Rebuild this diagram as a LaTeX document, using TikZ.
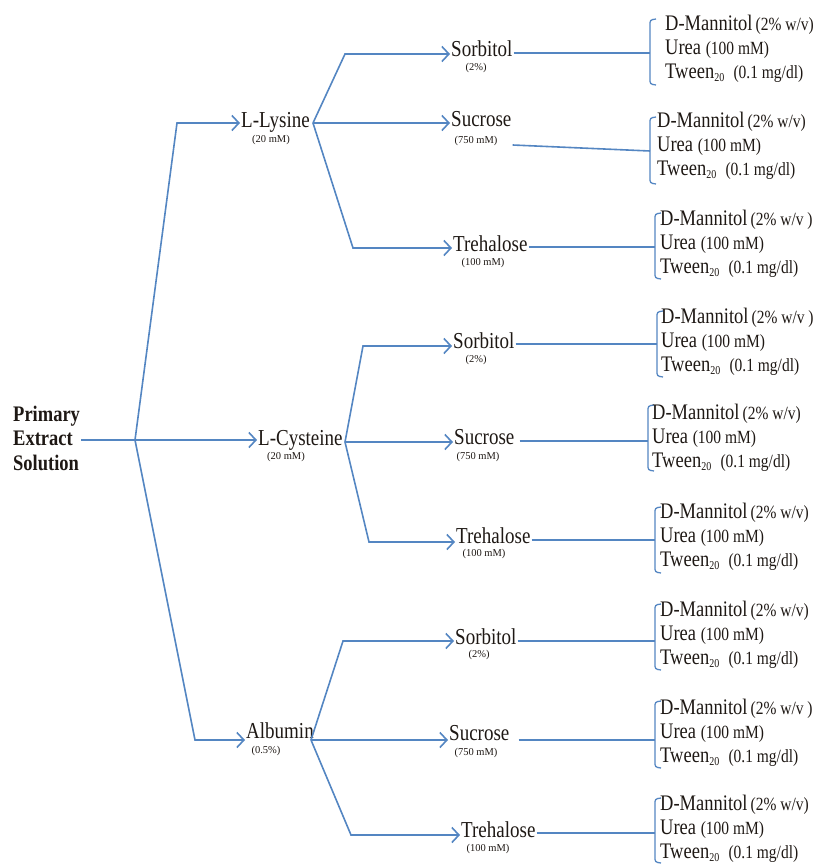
\documentclass[tikz,border=0pt]{standalone}
\usepackage{fontspec}
\setmainfont{Liberation Serif}
\usepackage{graphicx}
\usetikzlibrary{arrows.meta}
\definecolor{lnblue}{RGB}{84,134,194}
\definecolor{txtc}{RGB}{30,24,20}
\newcommand{\vs}[1]{\scalebox{1}[1.2]{#1}}
\newcommand{\pf}{\fontsize{15.5}{15.5}\selectfont}
\newcommand{\btext}[1]{\vs{D-Mannitol\,{\pf(2\% w/v#1)}}\\ \vs{Urea {\pf(100 mM)}}\\ \vs{Tween{\fontsize{10}{10}\selectfont\raisebox{-2pt}{20}}\ \ {\pf(0.1 mg/dl)}}}
\newcommand{\brackpath}[3]{\draw[conn, line width=1.3pt, rounded corners=2.5pt] (#1+6,#2) -- (#1,#2+1) -- (#1,#3-1) -- (#1+6,#3);}
\begin{document}
\begin{tikzpicture}[x=1pt,y=-1pt,
  conn/.style={draw=lnblue, line width=1.6pt},
  arr/.style={conn, -{Straight Barb[length=7pt,width=15pt]}},
  lab/.style={inner sep=1pt, text=txtc, font=\fontsize{19}{22}\selectfont, anchor=base west},
  sub/.style={inner sep=1pt, text=txtc, font=\fontsize{10.5}{12}\selectfont},
  btxt/.style={inner sep=0pt, text=txtc, align=left, anchor=west, font=\fontsize{18.5}{24}\selectfont}]
\useasboundingbox (0,0) rectangle (817,864);

% root
\node[inner sep=1pt, text=txtc, align=left, anchor=west, font=\bfseries\fontsize{18.5}{24.5}\selectfont] (pes) at (12,438) {\vs{Primary}\\\vs{Extract}\\\vs{Solution}};

% level 1
\node[lab] (lys) at (240,128) {\vs{L-Lysine}};
\node[sub] (lyss) at (271,140) {(20 mM)};
\node[lab] (cys) at (257,445) {\vs{L-Cysteine}};
\node[sub] (cyss) at (286,457) {(20 mM)};
\node[lab] (alb) at (245,738) {\vs{Albumin}};
\node[sub] (albs) at (266,751) {(0.5\%)};

\coordinate (j0) at (135,440);
\coordinate (c1) at (177,123);
\coordinate (c3) at (195,740);
\draw[conn] (pes.east |- j0) -- (j0);
\draw[arr] (j0) -- (c1) -- (c1 -| lys.west);
\draw[arr] (j0) -- (j0 -| cys.west);
\draw[arr] (j0) -- (c3) -- (c3 -| alb.west);

% level 2 labels
\node[lab] (sor1) at (450,57) {\vs{Sorbitol}};
\node[sub] (sor1s) at (476,68) {(2\%)};
\node[lab] (suc1) at (450,127) {\vs{Sucrose}};
\node[sub] (suc1s) at (476,141) {(750 mM)};
\node[lab] (tre1) at (452,251) {\vs{Trehalose}};
\node[sub] (tre1s) at (483,263) {(100 mM)};

\node[lab] (sor2) at (452,348) {\vs{Sorbitol}};
\node[sub] (sor2s) at (476,360) {(2\%)};
\node[lab] (suc2) at (453,444) {\vs{Sucrose}};
\node[sub] (suc2s) at (478,457) {(750 mM)};
\node[lab] (tre2) at (455,543) {\vs{Trehalose}};
\node[sub] (tre2s) at (484,554) {(100 mM)};

\node[lab] (sor3) at (454,644) {\vs{Sorbitol}};
\node[sub] (sor3s) at (479,655) {(2\%)};
\node[lab] (suc3) at (448,740) {\vs{Sucrose}};
\node[sub] (suc3s) at (476,753) {(750 mM)};
\node[lab] (tre3) at (460,837) {\vs{Trehalose}};
\node[sub] (tre3s) at (488,849) {(100 mM)};

% level 1 -> level 2 connectors
\coordinate (j1) at (313,123);
\coordinate (u1) at (345,54);
\coordinate (d1) at (353,248);
\draw[arr] (j1) -- (u1) -- (u1 -| sor1.west);
\draw[arr] (j1) -- (j1 -| suc1.west);
\draw[arr] (j1) -- (d1) -- (d1 -| tre1.west);

\coordinate (j2) at (345,442);
\coordinate (u2) at (363,346);
\coordinate (d2) at (369,542);
\draw[arr] (j2) -- (u2) -- (u2 -| sor2.west);
\draw[arr] (j2) -- (j2 -| suc2.west);
\draw[arr] (j2) -- (d2) -- (d2 -| tre2.west);

\coordinate (j3) at (311,740);
\coordinate (u3) at (343,641);
\coordinate (d3) at (351,835);
\draw[arr] (j3) -- (u3) -- (u3 -| sor3.west);
\draw[arr] (j3) -- (j3 -| suc3.west);
\draw[arr] (j3) -- (d3) -- (d3 -| tre3.west);

% brackets and texts
\brackpath{650}{19}{85}
\node[btxt] (b1) at (665,49) {\btext{}};
\coordinate (k1) at (650,53);
\draw[conn] (sor1.east |- k1) -- (k1);

\brackpath{650}{117}{184}
\node[btxt] (b2) at (657,146) {\btext{}};
\coordinate (k2) at (650,151);
\draw[conn] ([xshift=14pt,yshift=-4pt]suc1s.east) -- (k2);

\brackpath{655}{213}{279}
\node[btxt] (b3) at (660,244) {\btext{ }};
\coordinate (k3) at (655,247);
\draw[conn] (tre1.east |- k3) -- (k3);

\brackpath{657}{311}{377}
\node[btxt] (b4) at (661,342) {\btext{ }};
\coordinate (k4) at (657,344);
\draw[conn] (sor2.east |- k4) -- (k4);

\brackpath{648}{405}{471}
\node[btxt] (b5) at (652,438) {\btext{}};
\coordinate (k5) at (648,441);
\draw[conn] ([xshift=4pt]suc2.east |- k5) -- (k5);

\brackpath{655}{507}{573}
\node[btxt] (b6) at (660,537) {\btext{}};
\coordinate (k6) at (655,540);
\draw[conn] (tre2.east |- k6) -- (k6);

\brackpath{655}{604}{670}
\node[btxt] (b7) at (660,635) {\btext{}};
\coordinate (k7) at (655,641);
\draw[conn] (sor3.east |- k7) -- (k7);

\brackpath{655}{701}{768}
\node[btxt] (b8) at (660,733) {\btext{ }};
\coordinate (k8) at (655,740);
\draw[conn] ([xshift=8pt]suc3.east |- k8) -- (k8);

\brackpath{655}{798}{863}
\node[btxt] (b9) at (660,829) {\btext{}};
\coordinate (k9) at (655,833);
\draw[conn] (tre3.east |- k9) -- (k9);
\end{tikzpicture}
\end{document}
